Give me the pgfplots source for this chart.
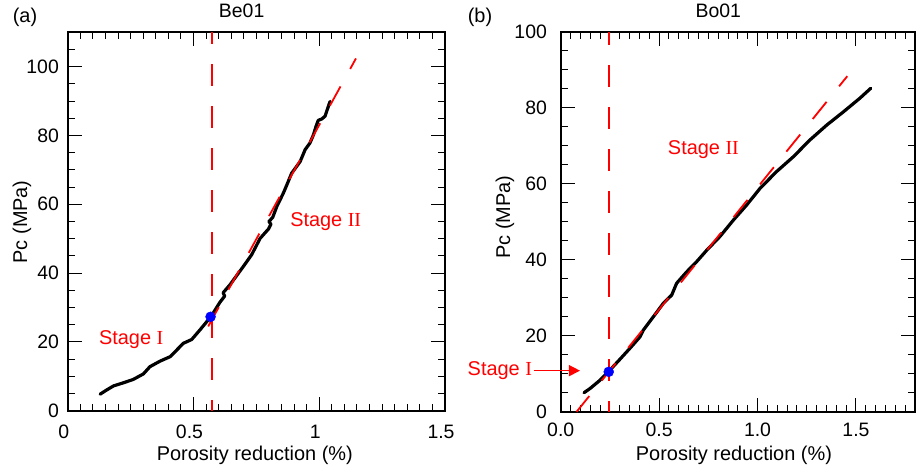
\documentclass[border=0pt]{standalone}
\usepackage{fontspec}
\setmainfont{Liberation Sans}
\newfontfamily\tms{Liberation Serif}
\usepackage{pgfplots}
\pgfplotsset{compat=1.18}
\usetikzlibrary{arrows.meta}
\definecolor{fitred}{RGB}{255,0,0}
\definecolor{ptblue}{RGB}{0,0,255}
\newcommand{\lbl}{\fontsize{20}{24}\selectfont}
\newcommand{\tkl}{\fontsize{19.5}{23}\selectfont}
\begin{document}
\lbl
\begin{tikzpicture}
\path[use as bounding box] (0,0) rectangle (918bp,470bp);
\pgfplotsset{
  myax/.style={
    scale only axis, anchor=south west,
    font=\lbl,
    tick label style={font=\tkl},
    label style={font=\lbl},
    title style={font=\tkl},
    /pgf/number format/assume math mode=true,
    axis line style={line width=1.8bp},
    every tick/.style={black, line width=1bp},
    major tick length=14bp, minor tick length=7bp,
    tick align=inside,
    clip=false,
  },
  curve/.style={black, line width=3.2bp, line join=round, line cap=round},
}
% ---------------- (a) Be01 ----------------
\begin{axis}[myax,
  at={(67.7bp,59.3bp)}, width=377.3bp, height=378.4bp,
  xmin=0, xmax=1.5, ymin=0, ymax=110,
  xtick={0,0.5,1,1.5}, xticklabels={0,0.5,1,1.5},
  minor xtick={0.05,0.1,...,1.46},
  ytick={0,20,40,60,80,100},
  minor ytick={5,10,...,106},
  xticklabel style={anchor=center, xshift=-4bp, yshift=-21bp},
  yticklabel style={xshift=-2bp},
  xlabel={Porosity reduction (\%)},
  ylabel={Pc (MPa)},
  xlabel style={at={(axis description cs:0.496,-0.117)}, anchor=center},
  ylabel style={at={(axis description cs:-0.121,0.499)}, anchor=center, rotate=0},
  title={Be01},
  title style={at={(axis description cs:0.461,1.040)}, anchor=center},
]
\addplot[color=fitred, line width=1.8bp, dash pattern=on 22bp off 20bp, dash phase=11bp] table {
x y
0.5725 0
0.5725 110
};
\addplot[curve] coordinates {
(0.129,4.8) (0.15,5.8) (0.182,7.2) (0.221,8.1) (0.261,9.1) (0.301,10.7)
(0.327,12.8) (0.367,14.4) (0.407,15.7) (0.433,17.6) (0.460,19.6) (0.493,20.7)
(0.526,23.5) (0.570,27.4) (0.605,31.5) (0.624,33.3) (0.618,34.3) (0.645,36.6)
(0.659,38.0) (0.698,41.9) (0.731,45.3) (0.765,50.1) (0.798,52.8) (0.808,54.2)
(0.800,55.0) (0.815,56.2) (0.831,59.3) (0.857,63.2) (0.871,65.6) (0.890,69.0)
(0.924,72.4) (0.944,75.9) (0.963,77.8) (0.977,80.2) (0.987,82.6) (0.996,84.4)
(1.010,84.8) (1.023,85.6) (1.043,89.9)
};
\addplot[color=fitred, line width=1.8bp, dash pattern=on 22bp off 20bp, dash phase=10bp] coordinates {(1.146,102.4) (0.523,19.8)};
\addplot[only marks, mark=*, mark size=5bp, ptblue] coordinates {(0.568,27.3)};
\node[anchor=base west, inner sep=0, text=fitred] at (axis cs:0.124,19.2) {Stage {\tms I}};
\node[anchor=base west, inner sep=0, text=fitred] at (axis cs:0.884,53.5) {Stage {\tms II}};
\end{axis}
% ---------------- (b) Bo01 ----------------
\begin{axis}[myax,
  at={(560.7bp,58.3bp)}, width=354.3bp, height=380bp,
  xmin=0, xmax=1.8, ymin=0, ymax=100,
  xtick={0,0.5,1,1.5}, xticklabels={0.0,0.5,1.0,1.5},
  minor xtick={0.05,0.1,...,1.76},
  ytick={0,20,40,60,80,100},
  minor ytick={5,10,...,96},
  xticklabel style={anchor=center, yshift=-18bp},
  yticklabel style={xshift=-7bp},
  xlabel={Porosity reduction (\%)},
  ylabel={Pc (MPa)},
  xlabel style={at={(axis description cs:0.489,-0.114)}, anchor=center},
  ylabel style={at={(axis description cs:-0.157,0.512)}, anchor=center, rotate=0},
  title={Bo01},
  title style={at={(axis description cs:0.445,1.039)}, anchor=center},
]
\addplot[curve] coordinates {
(0.1185,5.0) (0.149,6.1) (0.200,8.3) (0.242,10.5) (0.301,13.8) (0.352,16.7)
(0.403,19.7) (0.420,21.5) (0.471,25.0) (0.521,28.5) (0.564,30.7) (0.589,33.8)
(0.640,36.8) (0.691,39.5) (0.742,42.5) (0.809,46.1) (0.877,50.4) (0.945,54.4)
(1.013,58.8) (1.097,63.2) (1.182,67.1) (1.266,71.5) (1.351,75.4) (1.436,78.9)
(1.520,82.5) (1.575,85.1)
};
\addplot[color=fitred, line width=1.8bp, dash pattern=on 22bp off 20bp, dash phase=9bp] coordinates {(1.456,88.3) (0.081,0)};
\addplot[color=fitred, line width=1.8bp, dash pattern=on 22bp off 20bp, dash phase=11bp] coordinates {(0.244,0) (0.244,100)};
\addplot[only marks, mark=*, mark size=5bp, ptblue] coordinates {(0.244,10.5)};
\node[anchor=base west, inner sep=0, text=fitred] at (axis cs:0.544,67.7) {Stage {\tms II}};
\node[anchor=base east, inner sep=0, text=fitred] at (axis cs:-0.145,9.4) {Stage {\tms I}};
\draw[fitred, line width=1.4bp, -{Triangle[length=11bp, width=11bp]}] (axis cs:-0.138,10.8) -- (axis cs:0.098,10.8);
\end{axis}
\node[anchor=center] at (25bp,453bp) {(a)};
\node[anchor=center] at (480bp,453bp) {(b)};
\end{tikzpicture}
\end{document}
